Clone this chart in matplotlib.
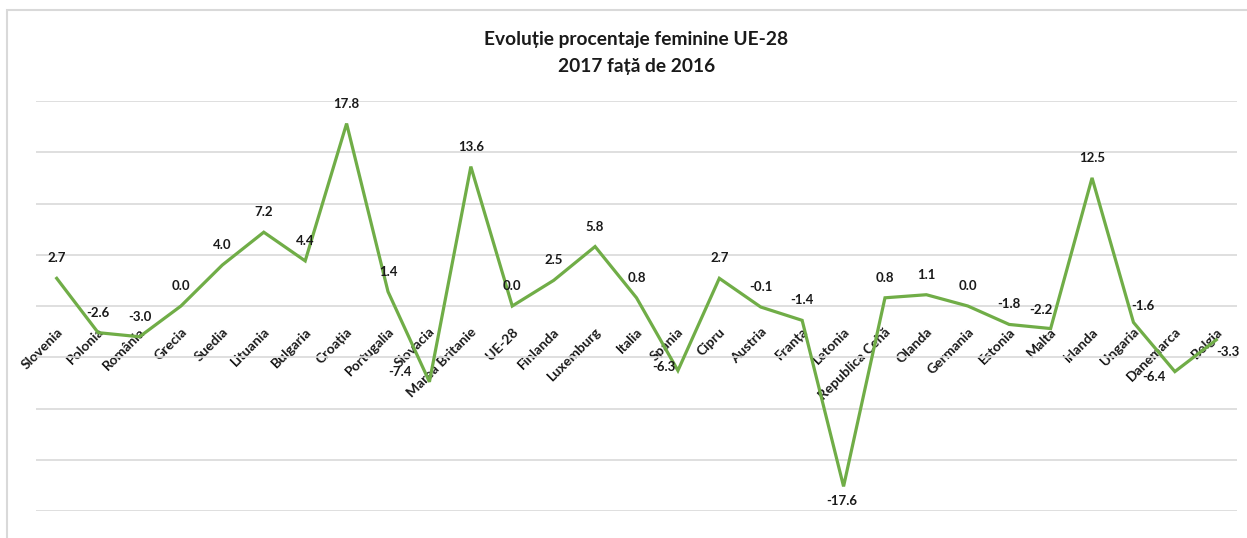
import matplotlib
matplotlib.use('Agg')
import matplotlib.pyplot as plt
import matplotlib.transforms as mtransforms
from matplotlib.patches import Rectangle
import numpy as np

# ---- data ----
countries = ['Slovenia', 'Polonia', 'România', 'Grecia', 'Suedia', 'Lituania', 'Bulgaria',
             'Croația', 'Portugalia', 'Slovacia', 'Marea Britanie', 'UE-28', 'Finlanda',
             'Luxemburg', 'Italia', 'Spania', 'Cipru', 'Austria', 'Franța', 'Letonia',
             'Republica Cehă', 'Olanda', 'Germania', 'Estonia', 'Malta', 'Irlanda',
             'Ungaria', 'Danemarca', 'Belgia']
change_2017_vs_2016 = [2.7, -2.6, -3.0, 0.0, 4.0, 7.2, 4.4, 17.8, 1.4, -7.4, 13.6, 0.0, 2.5,
                       5.8, 0.8, -6.3, 2.7, -0.1, -1.4, -17.6, 0.8, 1.1, 0.0, -1.8, -2.2,
                       12.5, -1.6, -6.4, -3.3]
title_text = 'Evoluție procentaje feminine UE-28\n2017 față de 2016'

plt.rcParams['font.family'] = ['Lato', 'DejaVu Sans']

W, H = 1247, 538
fig = plt.figure(figsize=(W / 100, H / 100), dpi=100, facecolor='white')

# outer chart border (chart is cropped at right and bottom)
fig.patches.append(Rectangle((7 / W, -0.1), 1.2, 1 - 10 / H + 0.1, transform=fig.transFigure,
                             facecolor='none', edgecolor='#D9D9D9', linewidth=1.5))

ax = fig.add_axes([36 / W, (H - 511) / H, (1237 - 36) / W, 410 / H])
x = np.arange(len(countries))

ax.plot(x, change_2017_vs_2016, color='#70AD47', linewidth=2.3, solid_joinstyle='miter', zorder=3)

ax.set_xlim(-0.5, len(countries) - 0.5)
ax.set_ylim(-20, 20)
ax.set_yticks(np.arange(-20, 21, 5))
ax.set_yticklabels([])
ax.tick_params(axis='y', length=0)
ax.grid(axis='y', color='#D9D9D9', linewidth=1.2)
ax.set_axisbelow(True)
for s in ['top', 'right', 'left']:
    ax.spines[s].set_visible(False)
ax.spines['bottom'].set_position(('data', 0))
ax.spines['bottom'].set_visible(False)

ax.set_xticks(x)
ax.set_xticklabels(countries, rotation=45, ha='right', va='top', fontsize=10,
                   fontweight='bold', color='#1a1a1a')
ax.tick_params(axis='x', length=0, pad=14)
shift = mtransforms.ScaledTranslation(8 / 100, 0, fig.dpi_scale_trans)
for lbl in ax.get_xticklabels():
    lbl.set_transform(lbl.get_transform() + shift)

# data label offsets in pixels (dx, dy), default is above the point
label_offsets = {9: (-29, 10), 15: (-14, 4), 19: (-2, -15), 24: (-10, 19),
                 26: (9, 16), 27: (-21, -5), 28: (12, -12)}
for i, v in enumerate(change_2017_vs_2016):
    dx, dy = label_offsets.get(i, (0, 20))
    ax.annotate(f'{v:.1f}', (i, v), xytext=(dx, dy), textcoords='offset pixels',
                ha='center', va='center', fontsize=9.5, fontweight='bold', color='#1a1a1a',
                zorder=4)

fig.text((36 + 1237) / 2 / W, 1 - 53 / H, title_text, ha='center', va='center',
         fontsize=13.8, fontweight='bold', color='#1a1a1a', linespacing=1.7)

fig.savefig('out.png', dpi=100, facecolor='white')
